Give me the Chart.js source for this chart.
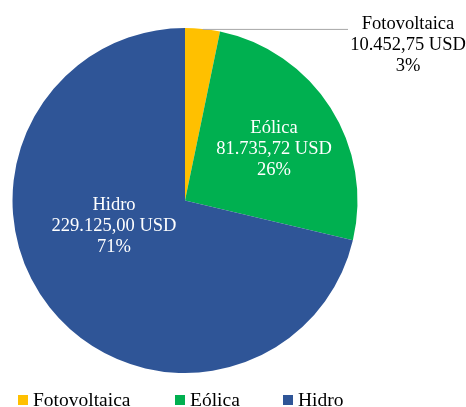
<!DOCTYPE html>
<html>
<head>
<meta charset="utf-8">
<script src="https://cdn.jsdelivr.net/npm/chart.js@4/dist/chart.umd.min.js"></script>
<style>
  html, body { margin: 0; padding: 0; background: #fff; }
  #wrap { width: 466px; height: 407px; }
</style>
</head>
<body>
<div id="wrap"><canvas id="chart0" width="466" height="407"></canvas></div>
<script>
// inversión por tecnología
const categories = ["Fotovoltaica", "Eólica", "Hidro"];
const valuesUSD = [10452.75, 81735.72, 229125.00];
const pctLabels = ["3%", "26%", "71%"];
const sliceColors = ["#FFC000", "#00B050", "#2F5597"];

const FONT = "'Liberation Serif', 'Times New Roman', serif";

function formatUSD(v) {
  let parts = v.toFixed(2).split(".");
  let ent = parts[0].replace(/\B(?=(\d{3})+(?!\d))/g, ".");
  return ent + "," + parts[1] + " USD";
}

// where each label block sits (center of the middle line)
const labelSpots = [
  { x: 408, y: 45, color: "#000000", callout: { x: 348 } },
  { x: 274, y: 149, color: "#ffffff" },
  { x: 114, y: 226, color: "#ffffff" }
];

const sliceLabels = {
  id: "sliceLabels",
  afterDatasetsDraw(chart) {
    const c = chart.ctx;
    const arcs = chart.getDatasetMeta(0).data;
    c.save();
    c.font = "18.5px " + FONT;
    c.textAlign = "center";
    c.textBaseline = "middle";
    arcs.forEach((arc, i) => {
      const spot = labelSpots[i];
      if (spot.callout) {
        const mid = (arc.startAngle + arc.endAngle) / 2;
        const sx = arc.x + Math.cos(mid) * arc.outerRadius;
        const sy = arc.y + Math.sin(mid) * arc.outerRadius;
        c.strokeStyle = "#A6A6A6";
        c.lineWidth = 1;
        c.beginPath();
        c.moveTo(sx, sy + 0.5);
        c.lineTo(spot.callout.x, sy + 0.5);
        c.stroke();
      }
      c.fillStyle = spot.color;
      c.fillText(categories[i], spot.x, spot.y - 21);
      c.fillText(formatUSD(valuesUSD[i]), spot.x, spot.y);
      c.fillText(pctLabels[i], spot.x, spot.y + 21);
    });
    c.restore();
  }
};

const bottomLegend = {
  id: "bottomLegend",
  afterDraw(chart) {
    const c = chart.ctx;
    const xs = [18, 175, 283];
    const y = 400;
    c.save();
    c.font = "19.5px " + FONT;
    c.textAlign = "left";
    c.textBaseline = "middle";
    categories.forEach((name, i) => {
      c.fillStyle = sliceColors[i];
      c.fillRect(xs[i], y - 5, 10, 10);
      c.fillStyle = "#000000";
      c.fillText(name, xs[i] + 15, y + 1);
    });
    c.restore();
  }
};

let ctx = document.getElementById("chart0").getContext("2d");

let chart = new Chart(ctx, {
  type: "pie",
  data: {
    labels: categories,
    datasets: [{
      data: valuesUSD,
      backgroundColor: sliceColors,
      borderWidth: 0,
      hoverOffset: 0
    }]
  },
  options: {
    responsive: false,
    animation: false,
    layout: {
      padding: { left: 12, right: 108, top: 28, bottom: 34 }
    },
    plugins: {
      legend: { display: false },
      tooltip: { enabled: false }
    }
  },
  plugins: [sliceLabels, bottomLegend]
});
</script>
</body>
</html>
